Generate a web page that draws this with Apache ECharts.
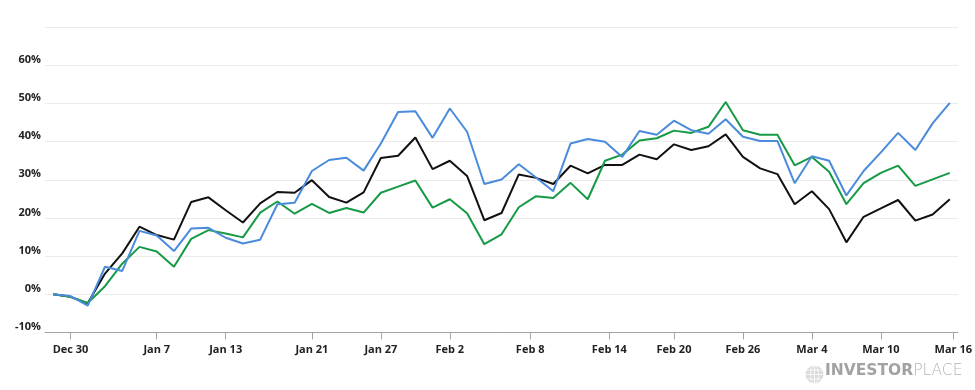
<!DOCTYPE html>
<html>
<head>
<meta charset="utf-8">
<script src="https://cdn.jsdelivr.net/npm/echarts@6/dist/echarts.min.js"></script>
<style>
html,body{margin:0;padding:0;background:#ffffff;}
#chart{width:975px;height:390px;}
</style>
</head>
<body>
<div id="chart"></div>
<script>
// ---- data (percent change, one value per trading point) ----
const blackSeries = [0, -0.7, -2.4, 5.4, 10.7, 17.7, 15.5, 14.3, 24.2, 25.4,
  22.0, 18.8, 23.8, 26.8, 26.6, 29.9, 25.5, 24.0, 26.7, 35.7,
  36.3, 41.1, 32.8, 35.0, 31.0, 19.4, 21.3, 31.4, 30.5, 28.9,
  33.7, 31.7, 33.9, 33.9, 36.6, 35.4, 39.3, 37.8, 38.8, 41.9,
  36.0, 33.0, 31.5, 23.6, 27.0, 22.3, 13.6, 20.3, 22.5, 24.7,
  19.3, 20.9, 24.9];
const greenSeries = [0, -0.7, -2.3, 2.1, 8.0, 12.4, 11.2, 7.2, 14.5, 16.8,
  15.9, 14.9, 21.4, 24.3, 21.1, 23.7, 21.3, 22.6, 21.4, 26.6,
  28.2, 29.8, 22.7, 24.9, 21.2, 13.1, 15.7, 22.8, 25.7, 25.2,
  29.2, 24.9, 35.0, 36.6, 40.3, 40.9, 42.9, 42.3, 43.9, 50.4,
  43.0, 41.8, 41.8, 33.8, 36.0, 32.1, 23.6, 29.1, 31.8, 33.7,
  28.4, 30.1, 31.8];
const blueSeries = [0, -0.5, -3.0, 7.2, 6.1, 16.6, 15.4, 11.3, 17.2, 17.4,
  14.8, 13.3, 14.3, 23.6, 24.0, 32.3, 35.2, 35.8, 32.4, 39.5,
  47.8, 48.0, 41.0, 48.7, 42.6, 28.9, 30.1, 34.1, 30.6, 27.0,
  39.5, 40.7, 40.0, 36.0, 42.8, 41.8, 45.5, 43.0, 42.1, 45.9,
  41.3, 40.2, 40.2, 29.1, 36.2, 35.0, 25.9, 32.3, 37.2, 42.3,
  37.8, 44.8, 50.2];
const tickLabels = ['Dec 30', 'Jan 7', 'Jan 13', 'Jan 21', 'Jan 27', 'Feb 2',
  'Feb 8', 'Feb 14', 'Feb 20', 'Feb 26', 'Mar 4', 'Mar 10', 'Mar 16'];
// tick locations, in units of trading points
const tickAt = [1, 6, 10, 15, 19, 23, 27.66, 32.25, 36, 40, 44, 48, 52.2];
const yMin = -10, yMax = 70, yStep = 10;

const toPoints = arr => arr.map((v, i) => [i, v]);
function labelFor(v) {
  let best = -1, bd = 1e9;
  tickAt.forEach((t, k) => { const d = Math.abs(t - v); if (d < bd) { bd = d; best = k; } });
  return bd < 0.01 ? tickLabels[best] : '';
}

const chart = echarts.init(document.getElementById('chart'), null, {renderer: 'canvas'});
chart.setOption({
  animation: false,
  backgroundColor: '#ffffff',
  grid: {left: 45, right: 16, top: 27.3, bottom: 57.7},
  xAxis: {
    type: 'value',
    min: -0.48,
    max: 52.47,
    splitLine: {show: false},
    axisLine: {show: true, onZero: false, lineStyle: {color: '#a3a3a3', width: 1}},
    axisTick: {show: true, length: 7, customValues: tickAt, lineStyle: {color: '#a3a3a3'}},
    axisLabel: {
      customValues: tickAt,
      formatter: v => labelFor(v),
      margin: 12,
      color: '#222222',
      fontFamily: 'Open Sans',
      fontWeight: 'bold',
      fontSize: 11
    }
  },
  yAxis: {
    type: 'value',
    min: yMin,
    max: yMax,
    interval: yStep,
    axisLine: {show: false},
    axisTick: {show: false},
    splitLine: {show: true, lineStyle: {color: '#ebebeb', width: 1}},
    axisLabel: {
      formatter: v => (v === yMax ? '' : v + '%'),
      margin: 4,
      verticalAlign: 'bottom',
      color: '#222222',
      fontFamily: 'Open Sans',
      fontWeight: 'bold',
      fontSize: 11
    }
  },
  series: [
    {name: 'Black', type: 'line', data: toPoints(blackSeries), symbol: 'none',
     lineStyle: {color: '#111111', width: 2}, itemStyle: {color: '#111111'}},
    {name: 'Green', type: 'line', data: toPoints(greenSeries), symbol: 'none',
     lineStyle: {color: '#169a45', width: 2}, itemStyle: {color: '#169a45'}},
    {name: 'Blue', type: 'line', data: toPoints(blueSeries), symbol: 'none',
     lineStyle: {color: '#4a8bdb', width: 2}, itemStyle: {color: '#4a8bdb'}}
  ],
  graphic: [
    {type: 'group', left: 803, top: 363, children: [
      {type: 'circle', shape: {cx: 9.5, cy: 9.5, r: 9}, style: {fill: '#dadada'}},
      {type: 'ellipse', shape: {cx: 9.5, cy: 9.5, rx: 4, ry: 9}, style: {fill: 'none', stroke: '#ffffff', lineWidth: 0.8}},
      {type: 'line', shape: {x1: 0.5, y1: 9.5, x2: 18.5, y2: 9.5}, style: {stroke: '#ffffff', lineWidth: 0.8}},
      {type: 'line', shape: {x1: 2, y1: 5, x2: 17, y2: 5}, style: {stroke: '#ffffff', lineWidth: 0.8}},
      {type: 'line', shape: {x1: 2, y1: 14, x2: 17, y2: 14}, style: {stroke: '#ffffff', lineWidth: 0.8}},
      {type: 'line', shape: {x1: 9.5, y1: 0.5, x2: 9.5, y2: 18.5}, style: {stroke: '#ffffff', lineWidth: 0.8}}
    ]},
    {type: 'text', left: 825, top: 363, style: {
      text: '{a|INVESTOR}{b|PLACE}',
      rich: {
        a: {fontFamily: 'DejaVu Sans', fontWeight: 'bold', fontSize: 15.5, fill: '#a2a2a2', color: '#a2a2a2'},
        b: {fontFamily: 'DejaVu Sans', fontWeight: 300, fontSize: 15.5, fill: '#b4b4b4', color: '#b4b4b4'}
      }
    }}
  ]
});
</script>
</body>
</html>
